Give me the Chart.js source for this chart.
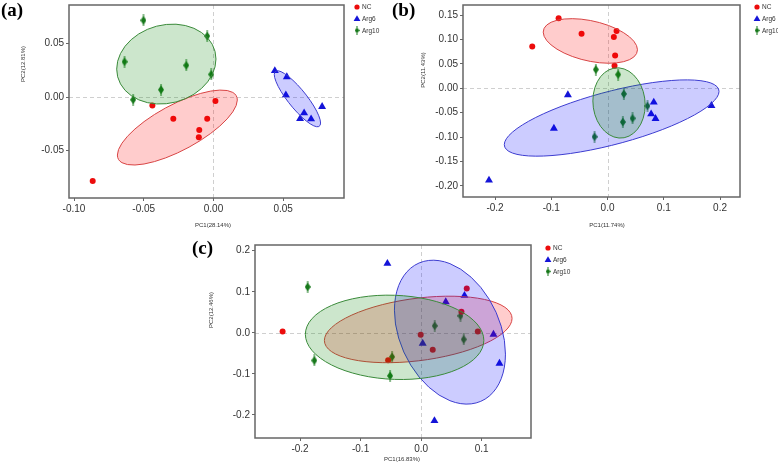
<!DOCTYPE html>
<html>
<head>
<meta charset="utf-8">
<script src="https://cdn.jsdelivr.net/npm/chart.js@4.4.0/dist/chart.umd.min.js"></script>
<style>
  html, body { margin: 0; padding: 0; background: #fff; }
  body { width: 778px; height: 470px; position: relative; overflow: hidden; }
  .panel { position: absolute; }
</style>
</head>
<body>
<div class="panel" style="left:0;top:0;width:390px;height:235px"><canvas id="ca"></canvas></div>
<div class="panel" style="left:390px;top:0;width:388px;height:235px"><canvas id="cb"></canvas></div>
<div class="panel" style="left:180px;top:230px;width:420px;height:240px"><canvas id="cc"></canvas></div>
<script>
// --- data: [PC1, PC2] per sample ---
const GROUPS = ['NC', 'Arg6', 'Arg10'];

const A_NC = [[-0.0866, -0.0782], [-0.0438, -0.0078], [-0.0288, -0.0202], [-0.0045, -0.0202],
  [0.0014, -0.0037], [-0.0102, -0.0307], [-0.0105, -0.0375]];
const A_ARG6 = [[0.0440, 0.0245], [0.0526, 0.0187], [0.0519, 0.0019], [0.0650, -0.0149],
  [0.0621, -0.0202], [0.0700, -0.0205], [0.0779, -0.0090]];
const A_ARG10 = [[-0.0502, 0.0714], [-0.0045, 0.0568], [-0.0638, 0.0329], [-0.0195, 0.0295],
  [-0.0016, 0.0211], [-0.0376, 0.0068], [-0.0576, -0.0025]];

const B_NC = [[-0.0870, 0.1432], [-0.0462, 0.1117], [0.0160, 0.1173], [0.0112, 0.1049],
  [-0.1339, 0.0856], [0.0135, 0.0671], [0.0124, 0.0459]];
const B_ARG6 = [[-0.0705, -0.0138], [-0.0954, -0.0823], [-0.2108, -0.1887], [0.0822, -0.0288],
  [0.0775, -0.0529], [0.0853, -0.0625], [0.1847, -0.0358]];
const B_ARG10 = [[-0.0208, 0.0383], [0.0189, 0.0280], [0.0290, -0.0117], [0.0710, -0.0364],
  [0.0444, -0.0617], [0.0272, -0.0693], [-0.0231, -0.0996]];

const C_NC = [[-0.2288, 0.0034], [0.0754, 0.1080], [0.0666, 0.0511], [0.0936, 0.0034],
  [-0.0007, -0.0049], [0.0192, -0.0414], [-0.0545, -0.0664]];
const C_ARG6 = [[-0.0557, 0.1688], [0.0716, 0.0909], [0.0407, 0.0754], [0.0026, -0.0258],
  [0.1195, -0.0039], [0.1294, -0.0745], [0.0220, -0.2141]];
const C_ARG10 = [[-0.1874, 0.1119], [-0.1764, -0.0672], [-0.0479, -0.0584], [-0.0512, -0.1046],
  [0.0225, 0.0170], [0.0650, 0.0414], [0.0704, -0.0160]];

// confidence ellipses: [centre x, centre y, half width x, half height y, y offset at the rightmost point]
const A_ELL = [[-0.0259, -0.0284, 0.0430, 0.0349, 0.0256], [0.0602, -0.0016, 0.0166, 0.0261, -0.0226],
  [-0.0338, 0.0307, 0.0356, 0.0372, 0.0047]];
const B_ELL = [[-0.0306, 0.0969, 0.0838, 0.0457, -0.0181], [0.0073, -0.0611, 0.1909, 0.0782, 0.0545],
  [0.0204, -0.0302, 0.0465, 0.0720, -0.0041]];
const C_ELL = [[-0.0048, 0.0083, 0.1550, 0.0810, 0.0268], [0.0476, 0.0017, 0.0917, 0.1752, -0.0535],
  [-0.0438, -0.0109, 0.1474, 0.1027, -0.0073]];

// axis ticks
const A_XTICKS = ['-0.10', '-0.05', '0.00', '0.05'];
const A_YTICKS = ['-0.05', '0.00', '0.05'];
const B_XTICKS = ['-0.2', '-0.1', '0.0', '0.1', '0.2'];
const B_YTICKS = ['-0.20', '-0.15', '-0.10', '-0.05', '0.00', '0.05', '0.10', '0.15'];
const C_XTICKS = ['-0.2', '-0.1', '0.0', '0.1'];
const C_YTICKS = ['-0.2', '-0.1', '0.0', '0.1', '0.2'];

// --- styles ---
const POINT_COLOR = { NC: '#ec0c0c', Arg6: '#1414d8', Arg10: '#16781a' };
const ELL_FILL = { NC: 'rgba(255,0,0,0.2)', Arg6: 'rgba(0,0,255,0.2)', Arg10: 'rgba(0,128,0,0.2)' };
const ELL_LINE = { NC: '#d84444', Arg6: '#3c3cd0', Arg10: '#3a8a3a' };
const FONT = '"Liberation Sans", Arial, sans-serif';

function makeDiamond(w, h, color) {
  const c = document.createElement('canvas');
  c.width = w; c.height = h;
  const g = c.getContext('2d');
  g.strokeStyle = color; g.lineWidth = 1;
  g.beginPath(); g.moveTo(w / 2, 0); g.lineTo(w / 2, h); g.stroke();
  g.fillStyle = color;
  g.beginPath();
  g.moveTo(w / 2, 1.5); g.lineTo(w, h / 2); g.lineTo(w / 2, h - 1.5); g.lineTo(0, h / 2);
  g.closePath(); g.fill();
  return c;
}
const DIAMOND = makeDiamond(6, 12, POINT_COLOR.Arg10);
const DIAMOND_SMALL = makeDiamond(5, 9, POINT_COLOR.Arg10);

const toXY = arr => arr.map(([x, y]) => ({ x, y }));

function pointDatasets(nc, arg6, arg10) {
  return [
    { label: 'NC', data: toXY(nc), pointStyle: 'circle', pointRadius: 3,
      backgroundColor: POINT_COLOR.NC, borderWidth: 0 },
    { label: 'Arg6', data: toXY(arg6), pointStyle: 'triangle', pointRadius: 4.6,
      backgroundColor: POINT_COLOR.Arg6, borderWidth: 0 },
    { label: 'Arg10', data: toXY(arg10), pointStyle: DIAMOND, pointRadius: 4,
      backgroundColor: POINT_COLOR.Arg10, borderWidth: 0 },
  ];
}

// dashed zero lines under the points, ellipses over them, box on top
const framePlugin = {
  id: 'frame',
  beforeDatasetsDraw(chart) {
    const { ctx, chartArea: a, scales: { x, y } } = chart;
    ctx.save();
    ctx.strokeStyle = '#cfcfcf';
    ctx.lineWidth = 1;
    ctx.setLineDash([4, 3]);
    const x0 = Math.round(x.getPixelForValue(0)) + 0.5;
    const y0 = Math.round(y.getPixelForValue(0)) + 0.5;
    ctx.beginPath();
    ctx.moveTo(x0, a.top); ctx.lineTo(x0, a.bottom);
    ctx.moveTo(a.left, y0); ctx.lineTo(a.right, y0);
    ctx.stroke();
    ctx.restore();
  },
  afterDatasetsDraw(chart, args, opts) {
    const { ctx, chartArea: a, scales: { x, y } } = chart;
    ctx.save();
    ctx.beginPath();
    ctx.rect(a.left, a.top, a.right - a.left, a.bottom - a.top);
    ctx.clip();
    opts.ellipses.forEach((e, i) => {
      const g = GROUPS[i];
      const [cx, cy, rx, ry, k] = e;
      const px = x.getPixelForValue(cx), py = y.getPixelForValue(cy);
      const ux = x.getPixelForValue(cx + rx) - px;
      const uy = y.getPixelForValue(cy + k) - py;
      const vy = y.getPixelForValue(cy + Math.sqrt(ry * ry - k * k)) - py;
      ctx.save();
      ctx.beginPath();
      ctx.translate(px, py);
      ctx.transform(ux, uy, 0, vy, 0, 0);
      ctx.arc(0, 0, 1, 0, Math.PI * 2);
      ctx.restore();
      ctx.fillStyle = ELL_FILL[g];
      ctx.fill();
      ctx.strokeStyle = ELL_LINE[g];
      ctx.lineWidth = 1;
      ctx.stroke();
    });
    ctx.restore();
  },
  afterDraw(chart, args, opts) {
    const { ctx, chartArea: a } = chart;
    ctx.save();
    ctx.strokeStyle = '#666';
    ctx.lineWidth = 1.5;
    ctx.strokeRect(a.left, a.top, a.right - a.left, a.bottom - a.top);

    // panel letter
    ctx.fillStyle = '#000';
    ctx.font = 'bold 19px "Liberation Serif", "Times New Roman", serif';
    ctx.textBaseline = 'alphabetic';
    ctx.textAlign = 'left';
    ctx.fillText(opts.letter, opts.letterPos[0], opts.letterPos[1]);

    // axis titles
    ctx.fillStyle = '#333';
    ctx.font = '6px ' + FONT;
    ctx.textAlign = 'center';
    ctx.textBaseline = 'middle';
    ctx.fillText(opts.xTitle, opts.xTitlePos[0], opts.xTitlePos[1]);
    ctx.save();
    ctx.translate(opts.yTitlePos[0], opts.yTitlePos[1]);
    ctx.rotate(-Math.PI / 2);
    ctx.fillText(opts.yTitle, 0, 0);
    ctx.restore();

    // legend
    const [lx, ly] = opts.legendPos;
    ctx.font = '6.5px ' + FONT;
    ctx.textAlign = 'left';
    GROUPS.forEach((g, i) => {
      const yy = ly + i * 11.7;
      ctx.fillStyle = POINT_COLOR[g];
      ctx.beginPath();
      if (g === 'NC') {
        ctx.arc(lx, yy, 2.6, 0, Math.PI * 2);
        ctx.fill();
      } else if (g === 'Arg6') {
        ctx.moveTo(lx, yy - 3.4); ctx.lineTo(lx + 3.4, yy + 2.4); ctx.lineTo(lx - 3.4, yy + 2.4);
        ctx.closePath(); ctx.fill();
      } else {
        ctx.drawImage(DIAMOND_SMALL, lx - 2.5, yy - 4.5);
      }
      ctx.fillStyle = '#333';
      ctx.fillText(g, lx + 5, yy + 0.5);
    });
    ctx.restore();
  },
};

function axis(min, max, labels, size, isX) {
  return {
    type: 'linear',
    min, max,
    afterBuildTicks: s => { s.ticks = labels.map(l => ({ value: parseFloat(l) })); },
    afterFit: s => {
      if (isX) s.height = size; else s.width = size;
      s.paddingTop = s.paddingBottom = s.paddingLeft = s.paddingRight = 0;
    },
    ticks: {
      autoSkip: false, maxRotation: 0, padding: 2, color: '#333',
      font: { family: FONT, size: 10 },
      callback: (v, i) => labels[i],
    },
    grid: { display: true, drawOnChartArea: false, drawTicks: true, tickLength: 3,
      tickColor: '#666', tickWidth: 1 },
    border: { display: false },
  };
}

function makePanel(id, datasets, padding, xs, ys, frame) {
  return new Chart(document.getElementById(id), {
    type: 'scatter',
    data: { datasets },
    plugins: [framePlugin],
    options: {
      responsive: true,
      maintainAspectRatio: false,
      devicePixelRatio: 1,
      animation: false,
      events: [],
      layout: { padding },
      scales: { x: xs, y: ys },
      plugins: { legend: { display: false }, tooltip: { enabled: false }, frame },
    },
  });
}

makePanel('ca', pointDatasets(A_NC, A_ARG6, A_ARG10),
  { left: 0, top: 5, right: 46, bottom: 0 },
  axis(-0.1036, 0.0936, A_XTICKS, 37, true),
  axis(-0.094, 0.0857, A_YTICKS, 69, false),
  { ellipses: A_ELL, letter: '(a)', letterPos: [1, 15.5],
    xTitle: 'PC1(28.14%)', xTitlePos: [213, 225],
    yTitle: 'PC2(12.81%)', yTitlePos: [23, 64], legendPos: [357, 7] });

makePanel('cb', pointDatasets(B_NC, B_ARG6, B_ARG10),
  { left: 0, top: 5, right: 38, bottom: 0 },
  axis(-0.257, 0.2355, B_XTICKS, 38, true),
  axis(-0.223, 0.1706, B_YTICKS, 73, false),
  { ellipses: B_ELL, letter: '(b)', letterPos: [2, 15.5],
    xTitle: 'PC1(11.74%)', xTitlePos: [217, 225],
    yTitle: 'PC2(11.43%)', yTitlePos: [33, 70], legendPos: [367, 7] });

makePanel('cc', pointDatasets(C_NC, C_ARG6, C_ARG10),
  { left: 0, top: 15, right: 69, bottom: 0 },
  axis(-0.2744, 0.1815, C_XTICKS, 32, true),
  axis(-0.256, 0.2139, C_YTICKS, 75, false),
  { ellipses: C_ELL, letter: '(c)', letterPos: [12, 23.5],
    xTitle: 'PC1(16.83%)', xTitlePos: [222, 229],
    yTitle: 'PC2(12.46%)', yTitlePos: [31, 80], legendPos: [368, 18] });
</script>
</body>
</html>
